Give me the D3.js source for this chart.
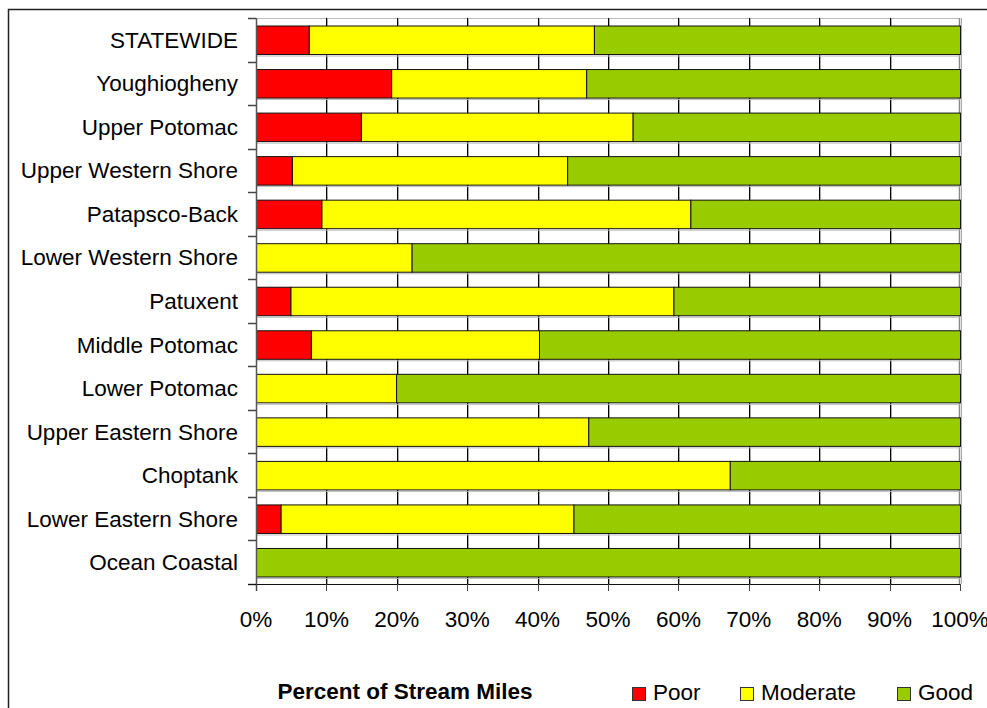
<!DOCTYPE html>
<html>
<head>
<meta charset="utf-8">
<script src="https://cdn.jsdelivr.net/npm/d3@7"></script>
<style>
  html, body { margin: 0; padding: 0; background: #fff; }
  svg { display: block; }
  text { font-family: Arial, "Liberation Sans", sans-serif; fill: #000; }
</style>
</head>
<body>
<svg id="chart" width="987" height="708"></svg>
<script>
const categories = ["STATEWIDE", "Youghiogheny", "Upper Potomac", "Upper Western Shore", "Patapsco-Back",
  "Lower Western Shore", "Patuxent", "Middle Potomac", "Lower Potomac", "Upper Eastern Shore",
  "Choptank", "Lower Eastern Shore", "Ocean Coastal"];
const poor     = [7.5, 19.2, 14.9, 5.1, 9.3, 0, 4.9, 7.8, 0, 0, 0, 3.5, 0];
const moderate = [40.5, 27.7, 38.6, 39.1, 52.4, 22.1, 54.4, 32.4, 19.9, 47.2, 67.3, 41.6, 0];
const good     = poor.map((p, i) => 100 - p - moderate[i]);
const seriesNames = ["Poor", "Moderate", "Good"];
const seriesColors = ["#FF0000", "#FFFF00", "#99CC00"];
const xTicks = [0, 10, 20, 30, 40, 50, 60, 70, 80, 90, 100];
const axisTitle = "Percent of Stream Miles";

const svg = d3.select("#chart");
const L = 256, R = 960, T = 18, B = 584;
const FS = 22.5;

// outer border
svg.append("rect").attr("x", 8.5).attr("y", 9.5).attr("width", 1000).attr("height", 800)
  .attr("fill", "none").attr("stroke", "#222").attr("stroke-width", 1.5);

const x = d3.scaleLinear().domain([0, 100]).range([L, R]);
const y = d3.scaleBand().domain(categories).range([T, B]).paddingInner(0.345).paddingOuter(0.1725);

// top line of plot
svg.append("line").attr("x1", L).attr("x2", R).attr("y1", T + 0.5).attr("y2", T + 0.5)
  .attr("stroke", "#bbb").attr("stroke-width", 1);

// gridlines
const grid = svg.append("g");
xTicks.filter(t => t > 0).forEach(t => {
  const px = Math.round(x(t));
  grid.append("line").attr("x1", px + 1.5).attr("x2", px + 1.5).attr("y1", T).attr("y2", B)
    .attr("stroke", "#aaa").attr("stroke-width", 1);
  if (t < 100) {
    grid.append("line").attr("x1", px + 0.5).attr("x2", px + 0.5).attr("y1", T).attr("y2", B)
      .attr("stroke", "#000").attr("stroke-width", 1);
  } else {
    grid.append("line").attr("x1", px - 0.5).attr("x2", px - 0.5).attr("y1", T).attr("y2", B)
      .attr("stroke", "#888").attr("stroke-width", 1.5);
  }
});

// stacked data
const rows = categories.map((c, i) => ({ cat: c, Poor: poor[i], Moderate: moderate[i], Good: good[i] }));
const stack = d3.stack().keys(seriesNames)(rows);

const bars = svg.append("g");
stack.forEach((layer, li) => {
  layer.forEach(d => {
    const w = x(d[1]) - x(d[0]);
    if (w <= 0.01) return;
    bars.append("rect")
      .attr("x", x(d[0]) + 0.5).attr("y", y(d.data.cat) + 0.5)
      .attr("width", w).attr("height", y.bandwidth())
      .attr("fill", seriesColors[li]).attr("stroke", "#111").attr("stroke-width", 1);
  });
});
// bar bottom shadow
categories.forEach(c => {
  svg.append("line").attr("x1", L).attr("x2", R).attr("y1", y(c) + y.bandwidth() + 2)
    .attr("y2", y(c) + y.bandwidth() + 2).attr("stroke", "#bbb").attr("stroke-width", 1);
});

// y axis
svg.append("line").attr("x1", L + 0.5).attr("x2", L + 0.5).attr("y1", T).attr("y2", B + 7)
  .attr("stroke", "#555").attr("stroke-width", 1.5);
const step = y.step();
d3.range(categories.length + 1).forEach(i => {
  const py = Math.round(T + i * step) + 0.5;
  svg.append("line").attr("x1", 248).attr("x2", L).attr("y1", py).attr("y2", py)
    .attr("stroke", "#444").attr("stroke-width", 1.5);
});
svg.append("g").selectAll("text").data(categories).join("text")
  .attr("x", 238).attr("y", d => y(d) + y.bandwidth() / 2 + 8)
  .attr("text-anchor", "end").attr("font-size", FS).text(d => d);

// x axis
svg.append("line").attr("x1", 248).attr("x2", R).attr("y1", B + 0.5).attr("y2", B + 0.5)
  .attr("stroke", "#111").attr("stroke-width", 1);
xTicks.forEach(t => {
  const px = Math.round(x(t)) + 0.5;
  svg.append("line").attr("x1", px).attr("x2", px).attr("y1", B).attr("y2", B + 7)
    .attr("stroke", "#444").attr("stroke-width", 1);
});
svg.append("g").selectAll("text").data(xTicks).join("text")
  .attr("x", d => x(d)).attr("y", 627)
  .attr("text-anchor", "middle").attr("font-size", FS).text(d => d + "%");

// axis title
svg.append("text").attr("x", 405).attr("y", 699).attr("text-anchor", "middle")
  .attr("font-size", FS).attr("font-weight", "bold").text(axisTitle);

// legend
const legX = [632, 740, 897];
seriesNames.forEach((n, i) => {
  svg.append("rect").attr("x", legX[i] + 0.5).attr("y", 687.5).attr("width", 13).attr("height", 13)
    .attr("fill", seriesColors[i]).attr("stroke", "#333").attr("stroke-width", 1);
  svg.append("text").attr("x", legX[i] + 21).attr("y", 700).attr("font-size", FS).text(n);
});
</script>
</body>
</html>
